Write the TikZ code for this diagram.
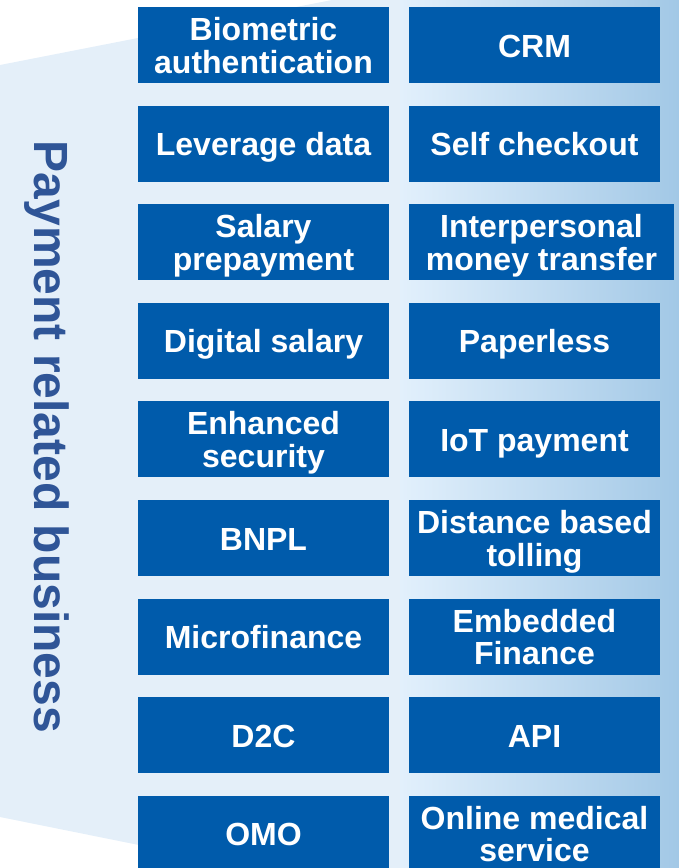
\documentclass[tikz,border=0pt]{standalone}
\usepackage{fontspec}
\setmainfont{Liberation Sans}
\usetikzlibrary{positioning}

\definecolor{bgleft}{HTML}{E4EFF9}
\definecolor{bgmid}{HTML}{E2F0FC}
\definecolor{bgright}{HTML}{A2C8E6}
\definecolor{boxblue}{HTML}{005BAB}
\definecolor{titleblue}{HTML}{2F5597}

\begin{document}
\begin{tikzpicture}[x=1pt,y=1pt]
        \tikzstyle{bloc} = [rectangle, fill=boxblue, text=white, inner sep=0pt, minimum width=251pt, minimum height=76pt, align=center, font=\fontsize{32}{32.5}\selectfont\bfseries]
        \tikzstyle{usecase} = [bloc, execute at begin node={\rule{0pt}{32pt}}, execute at end node={\rule[-8pt]{0pt}{8pt}}]
        \tikzstyle{usecase2} = [bloc, execute at begin node={\rule{0pt}{64pt}}, execute at end node={\rule[-8pt]{0pt}{8pt}}]
        \tikzstyle{titre} = [rotate=-90, text=titleblue, font=\fontsize{48}{52}\selectfont\bfseries]
        \useasboundingbox (0,0) rectangle (679,-868);
        % background band
        \fill[bgleft] (0,-65) -- (332,0) -- (679,0) -- (679,-868) -- (253,-868) -- (0,-817) -- cycle;
        \shade[left color=bgmid, right color=bgright] (400,0) rectangle (679,-868);
        \node (titre) [titre] at (47,-437) {Payment related business};
        % left column
        \node (biometric) [usecase2] at (263.5,-45) {Biometric\\authentication};
        \node (leverage) [usecase, below of=biometric, node distance=98.6pt] {Leverage data};
        \node (salary_pre) [usecase2, below of=leverage, node distance=98.6pt] {Salary\\prepayment};
        \node (digital_salary) [usecase, below of=salary_pre, node distance=98.6pt] {Digital salary};
        \node (security) [usecase2, below of=digital_salary, node distance=98.6pt] {Enhanced\\security};
        \node (bnpl) [usecase, below of=security, node distance=98.6pt] {BNPL};
        \node (microfinance) [usecase, below of=bnpl, node distance=98.6pt] {Microfinance};
        \node (d2c) [usecase, below of=microfinance, node distance=98.6pt] {D2C};
        \node (omo) [usecase, below of=d2c, node distance=98.6pt] {OMO};
        % right column
        \node (crm) [usecase, right of=biometric, node distance=271pt] {CRM};
        \node (checkout) [usecase, right of=leverage, node distance=271pt] {Self checkout};
        \node (transfer) [usecase2, right of=salary_pre, node distance=271pt, xshift=7pt, minimum width=265pt] {Interpersonal\\money transfer};
        \node (paperless) [usecase, right of=digital_salary, node distance=271pt] {Paperless};
        \node (iot) [usecase, right of=security, node distance=271pt] {IoT payment};
        \node (tolling) [usecase2, right of=bnpl, node distance=271pt] {Distance based\\tolling};
        \node (embedded) [usecase2, right of=microfinance, node distance=271pt] {Embedded\\Finance};
        \node (api) [usecase, right of=d2c, node distance=271pt] {API};
        \node (medical) [usecase2, right of=omo, node distance=271pt] {Online medical\\service};
    \end{tikzpicture}
\end{document}
